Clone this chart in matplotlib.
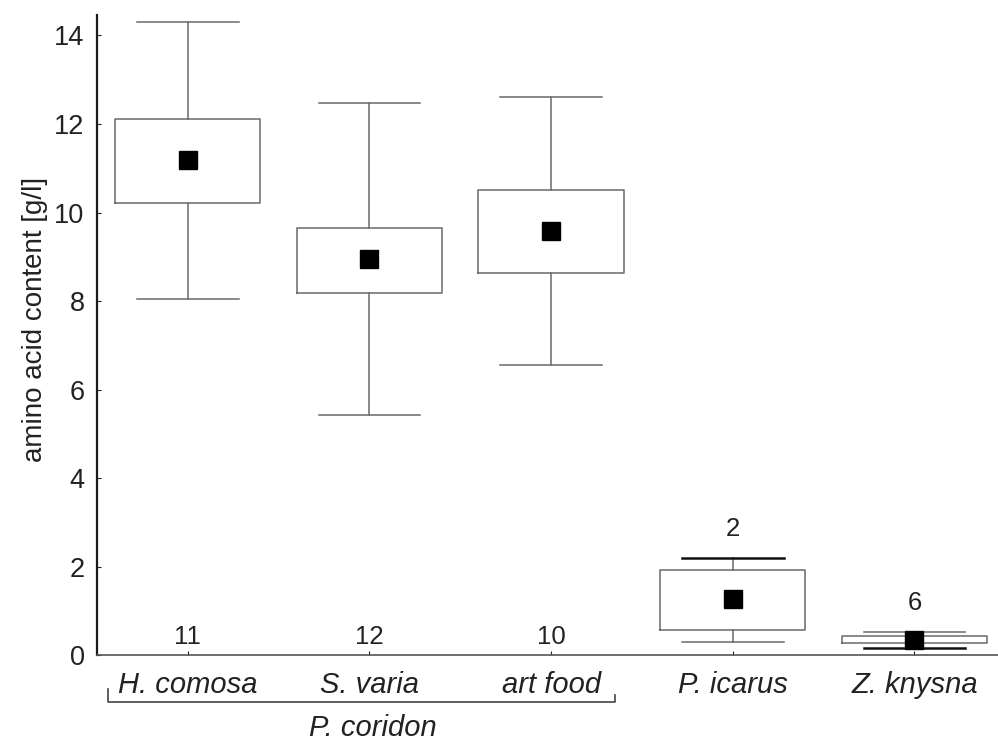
import matplotlib
matplotlib.use("Agg")
import matplotlib.pyplot as plt

plt.rcParams['font.family'] = ['Liberation Sans', 'DejaVu Sans']

# Group labels and summary statistics (g/l)
groups = ["H. comosa", "S. varia", "art food", "P. icarus", "Z. knysna"]
means = [11.18, 8.94, 9.58, 1.28, 0.35]
box_low = [10.21, 8.18, 8.63, 0.58, 0.29]
box_high = [12.11, 9.66, 10.52, 1.93, 0.45]
whisker_low = [8.04, 5.42, 6.55, 0.30, 0.16]
whisker_high = [14.30, 12.47, 12.60, 2.20, 0.53]
sample_sizes = [11, 12, 10, 2, 6]
host_plant_group = "P. coridon"

stats = []
for g, m, lo, hi, wl, wh in zip(groups, means, box_low, box_high, whisker_low, whisker_high):
    stats.append(dict(label=g, mean=m, med=m, q1=lo, q3=hi,
                      whislo=wl, whishi=wh, fliers=[]))

fig = plt.figure(figsize=(9.98, 7.42), dpi=100)
ax = fig.add_axes([0.0972, 0.1166, 0.9028, 0.8632])

line_col = "#6a6a6a"
positions = list(range(1, len(groups) + 1))
art = ax.bxp(stats, positions=positions, widths=0.8, capwidths=0.56,
             showmeans=True, showfliers=False,
             boxprops=dict(color=line_col, linewidth=1.1),
             whiskerprops=dict(color=line_col, linewidth=1.1),
             capprops=dict(color=line_col, linewidth=1.1),
             medianprops=dict(linewidth=0),
             meanprops=dict(marker='s', markersize=13, markerfacecolor='black',
                            markeredgecolor='black'))

# darker caps on the two small groups
for idx in (7, 8):
    art['caps'][idx].set_color('#111111')
    art['caps'][idx].set_linewidth(1.8)

ax.set_xlim(0.5, 5.46)
ax.set_ylim(0, 14.46)
ax.set_yticks([0, 2, 4, 6, 8, 10, 12, 14])
ax.set_xticks(positions)
ax.set_xticklabels(groups, fontstyle='italic')

ax.tick_params(axis='both', direction='in', length=3, colors='#222222')
ax.tick_params(axis='y', pad=9, labelsize=19.5)
ax.tick_params(axis='x', pad=11, labelsize=21)

for s in ('top', 'right'):
    ax.spines[s].set_visible(False)
ax.spines['left'].set_color('#1a1a1a')
ax.spines['left'].set_linewidth(1.6)
ax.spines['bottom'].set_color('#555555')
ax.spines['bottom'].set_linewidth(1.2)

# sample sizes
for i, (n, wh) in enumerate(zip(sample_sizes, whisker_high)):
    y = 0.41 if i < 3 else wh + 0.66
    ax.text(positions[i], y, str(n), ha='center', va='center',
            fontsize=18.5, color='#222222')

# bracket joining the P. coridon food plants
tr = ax.get_xaxis_transform()
ax.plot([0.56, 0.56, 3.35, 3.35], [-0.053, -0.072, -0.072, -0.061],
        transform=tr, clip_on=False, color='#444444', linewidth=1.2)
ax.text(2.02, -0.1125, host_plant_group, transform=tr, ha='center',
        va='center', fontsize=21, fontstyle='italic', color='#222222')

fig.text(35 / 998, 1 - 319 / 742, "amino acid content [g/l]", rotation=90,
         ha='center', va='center', fontsize=20, color='#222222')

fig.savefig("out.png", dpi=100)
